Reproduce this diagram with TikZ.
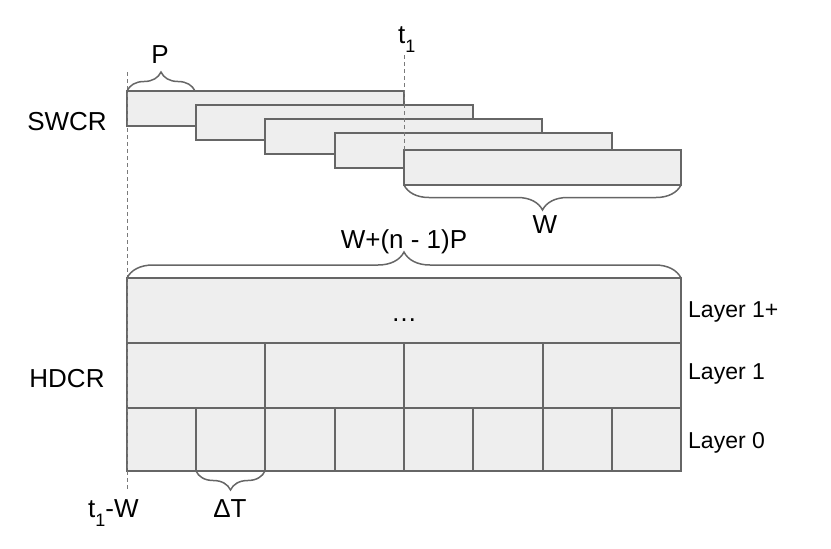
\documentclass[tikz,border=0pt]{standalone}
\usepackage{fontspec}
\setmainfont{Liberation Sans}
\usetikzlibrary{decorations.pathreplacing}
\definecolor{edgegray}{HTML}{666666}
\definecolor{cellgray}{HTML}{EEEEEE}
\definecolor{guidegray}{HTML}{7A7A7A}
\newcommand{\lowsub}[1]{\raisebox{-9pt}{\fontsize{18}{20}\selectfont #1}}
\tikzset{
  cellbox/.style={draw=edgegray,fill=cellgray,line width=1.5pt},
  guideline/.style={draw=guidegray,line width=1pt,dash pattern=on 4pt off 3pt},
  braceup/.style={draw=edgegray,line width=1.5pt,decorate,decoration={brace,amplitude=#1}},
  bracedown/.style={draw=edgegray,line width=1.5pt,decorate,decoration={brace,mirror,amplitude=#1}},
  lbl/.style={font=\fontsize{26}{30}\selectfont,inner sep=0pt,anchor=base},
  layerlbl/.style={font=\fontsize{23}{28}\selectfont,inner sep=0pt,anchor=base west}
}

\begin{document}
\begin{tikzpicture}[x=1pt,y=-1pt]
    \useasboundingbox (0,0) rectangle (831,549);
    \foreach \x/\top in {127/91,196/105,265/119,335/133,404/150}
        \draw[cellbox] (\x,\top) rectangle ++(277,35);
    \draw[cellbox] (127,278) rectangle (681,343);
    \foreach \x/\xx in {127/265,265/404,404/543,543/681}
        \draw[cellbox] (\x,343) rectangle (\xx,408);
    \foreach \x/\xx in {127/196,196/265,265/335,335/404,404/473,473/543,543/612,612/681}
        \draw[cellbox] (\x,408) rectangle (\xx,471);
    \draw[guideline] (127,72) -- (127,490);
    \draw[guideline] (404,55) -- (404,150);
    \draw[braceup=19] (127,91) -- (195,91);
    \draw[bracedown=25] (404,185) -- (681,185);
    \draw[braceup=26] (127,278) -- (681,278);
    \draw[bracedown=19] (196,471) -- (265,471);
    \node[lbl] (swcr) at (67,130) {SWCR};
    \node[lbl] (hdcr) at (67,387) {HDCR};
    \node[lbl] (plbl) at (160,63) {P};
    \node[lbl,anchor=base west] (t1) at (398,43) {t\lowsub{1}};
    \node[lbl] (wlbl) at (545,233) {W};
    \node[lbl] (span) at (404,248) {W+(n - 1)P};
    \node[lbl] (dots) at (404,321) {…};
    \node[lbl,anchor=base west] (t1w) at (88,517) {t\lowsub{1}-W};
    \node[lbl] (dt) at (230,517) {ΔT};
    \node[layerlbl] (l2) at (688,317) {Layer 1+};
    \node[layerlbl] (l1) at (688,379) {Layer 1};
    \node[layerlbl] (l0) at (688,448) {Layer 0};
\end{tikzpicture}
\end{document}
